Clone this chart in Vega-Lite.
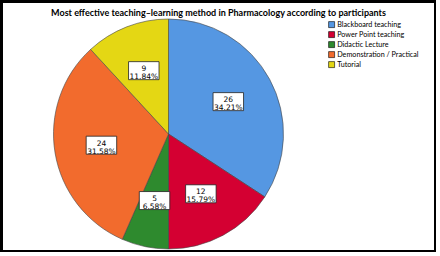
{
  "$schema": "https://vega.github.io/schema/vega-lite/v6.json",
  "width": 434,
  "height": 250,
  "autosize": {"type": "none"},
  "padding": {"left": 1.5, "top": 1.5, "right": 0, "bottom": 0},
  "background": "white",
  "view": {"stroke": "black", "strokeWidth": 3, "fill": null},
  "title": {
    "text": "Most effective teaching–learning method in Pharmacology according to participants",
    "font": "Lato",
    "fontSize": 9,
    "fontWeight": "bold",
    "color": "black",
    "offset": -16
  },
  "data": {
    "values": [
      {"method": "Blackboard teaching", "count": 26, "pct": "34.21%", "rank": 1},
      {"method": "Power Point teaching", "count": 12, "pct": "15.79%", "rank": 2},
      {"method": "Didactic Lecture", "count": 5, "pct": "6.58%", "rank": 3},
      {"method": "Demonstration / Practical", "count": 24, "pct": "31.58%", "rank": 4},
      {"method": "Tutorial", "count": 9, "pct": "11.84%", "rank": 5}
    ]
  },
  "transform": [
    {"window": [{"op": "sum", "field": "count", "as": "cum"}], "sort": [{"field": "rank"}], "frame": [null, 0]},
    {"joinaggregate": [{"op": "sum", "field": "count", "as": "total"}]},
    {"calculate": "(datum.cum - datum.count / 2) / datum.total * 2 * PI", "as": "mid"},
    {"calculate": "68 * sin(datum.mid)", "as": "lx"},
    {"calculate": "68 * cos(datum.mid)", "as": "ly"},
    {"calculate": "[toString(datum.count), datum.pct]", "as": "label"}
  ],
  "layer": [
    {
      "mark": {"type": "arc", "outerRadius": 115, "stroke": "#444444", "strokeWidth": 0.6, "xOffset": -50, "yOffset": 7.5},
      "encoding": {
        "theta": {"field": "count", "type": "quantitative", "stack": true},
        "order": {"field": "rank", "type": "quantitative"},
        "color": {
          "field": "method",
          "type": "nominal",
          "scale": {
            "domain": ["Blackboard teaching", "Power Point teaching", "Didactic Lecture", "Demonstration / Practical", "Tutorial"],
            "range": ["#5597E2", "#D40032", "#2E8A2E", "#F26B2D", "#E4D714"]
          },
          "legend": {
            "orient": "none",
            "legendX": 326.5,
            "legendY": 19.5,
            "title": null,
            "symbolType": "square",
            "symbolSize": 36,
            "symbolStrokeColor": "black",
            "symbolStrokeWidth": 0.6,
            "symbolOpacity": 1,
            "labelFont": "Lato",
            "labelFontSize": 7.2,
            "labelColor": "black",
            "labelOffset": 2,
            "rowPadding": 1
          }
        }
      }
    },
    {
      "mark": {"type": "point", "shape": "M-1,-0.59L1,-0.59L1,0.59L-1,0.59Z", "filled": true, "fill": "white", "fillOpacity": 1, "stroke": "#222222", "strokeWidth": 0.8, "size": 930},
      "encoding": {
        "x": {"field": "lx", "type": "quantitative", "scale": {"domain": [-167, 267], "nice": false, "zero": false}, "axis": null},
        "y": {"field": "ly", "type": "quantitative", "scale": {"domain": [-117.5, 132.5], "nice": false, "zero": false}, "axis": null}
      }
    },
    {
      "mark": {"type": "text", "font": "DejaVu Sans", "fontSize": 7.5, "color": "black", "lineHeight": 8, "baseline": "middle", "align": "center", "dy": -1.5},
      "encoding": {
        "x": {"field": "lx", "type": "quantitative"},
        "y": {"field": "ly", "type": "quantitative"},
        "text": {"field": "label"}
      }
    }
  ]
}
